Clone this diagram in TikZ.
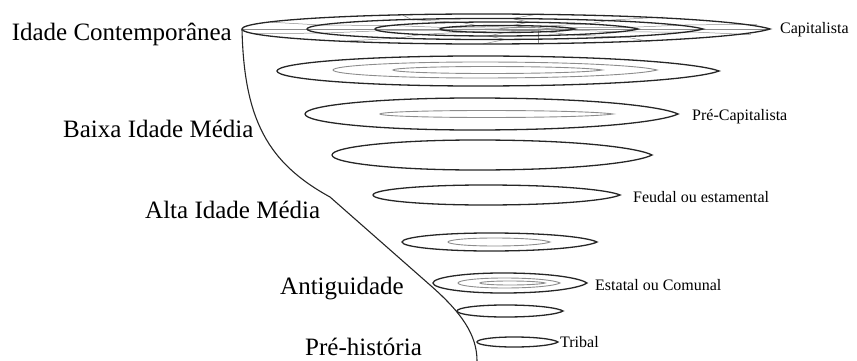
\documentclass[tikz,border=0pt]{standalone}
\usepackage{fontspec}
\setmainfont{Liberation Serif}
\begin{document}
\begin{tikzpicture}[x=1pt,y=-1pt,
  ring/.style={line width=1.3pt,black!85},
  inner/.style={line width=0.9pt,black!45},
  web/.style={line width=0.5pt,black!45},
  funnel/.style={line width=1.1pt,black!85},
  biglbl/.style={inner sep=0pt,font=\fontsize{25}{30}\selectfont},
  smalllbl/.style={inner sep=0pt,font=\fontsize{16}{19}\selectfont}]
\useasboundingbox (0,0) rectangle (857,361);
% lens: #1 style, #2 xl, #3 xr, #4 yc, #5 h
\newcommand\lens[5][ring]{%
  \draw[#1] (#2,#4)
   .. controls (#2,{#4-0.552*#5}) and ({#2+0.2*(#3-#2)},{#4-#5}) .. ({#2+0.45*(#3-#2)},{#4-#5})
   .. controls ({#2+0.78*(#3-#2)},{#4-#5}) and ({#3-0.04*(#3-#2)},{#4-0.45*#5}) .. (#3,#4)
   .. controls ({#3-0.04*(#3-#2)},{#4+0.45*#5}) and ({#2+0.78*(#3-#2)},{#4+#5}) .. ({#2+0.45*(#3-#2)},{#4+#5})
   .. controls ({#2+0.2*(#3-#2)},{#4+#5}) and (#2,{#4+0.552*#5}) .. cycle;}
% top disk (Capitalista)
\draw[web] (242,29) -- (770,29);
\draw[web] (538,29) -- (538,43);
\foreach \a in {15,50,80,110,150,195,230,262,300,335}{
  \draw[web] ({525+20*cos(\a)},{29-1.5*sin(\a)}) -- ({507.5+67.5*cos(\a+6)},{29-3.5*sin(\a+6)})
   -- ({506.5+131.5*cos(\a)},{29-7*sin(\a)}) -- ({505+198*cos(\a+8)},{29-10.5*sin(\a+8)})
   -- ({506+264*cos(\a+3)},{29-15*sin(\a+3)});}
\lens{242}{770}{29}{15}
\lens{307}{703}{29}{10.5}
\lens{375}{638}{29}{7}
\lens{440}{575}{29}{3.5}
\lens[inner]{500}{550}{29}{1.5}
% row 2
\lens{277}{719}{71}{15}
\lens[inner]{333}{657}{70}{8}
\lens[inner]{393}{602}{70}{3.5}
% row 3
\lens{305}{678}{114}{16}
\lens[inner]{380}{613}{114}{3.5}
% row 4
\lens{332}{652}{155}{15}
% row 5
\lens{373}{620}{195}{10}
% row 6
\lens{402}{597}{242}{9}
\lens[inner]{448}{550}{242}{4}
% row 7
\lens{433}{587}{283}{10}
\lens[inner]{458}{560}{283}{5}
\lens[inner]{480}{545}{283}{2}
% row 8
\lens{457}{563}{311}{6}
% row 9
\lens{477}{558}{342}{5}
% funnel
\coordinate (ftop) at (242,29);
\coordinate (fmid) at (330,197);
\coordinate (flow) at (430,285);
\coordinate (fbot) at (477,361);
\draw[funnel] (ftop) .. controls (244,120) and (268,163) .. (fmid) -- (flow)
  .. controls (462,313) and (477,335) .. (fbot);
% labels
\node[biglbl,anchor=base east] (l1) at (232,41) {Idade Contemporânea};
\node[biglbl,anchor=base west] (l2) at (63,137) {Baixa Idade Média};
\node[biglbl,anchor=base west] (l3) at (145,218) {Alta Idade Média};
\node[biglbl,anchor=base west] (l4) at (280,294) {Antiguidade};
\node[biglbl,anchor=base west] (l5) at (305,355) {Pré-história};
\node[smalllbl,anchor=base west] (r1) at (780,34) {Capitalista};
\node[smalllbl,anchor=base west] (r2) at (692,120) {Pré-Capitalista};
\node[smalllbl,anchor=base west] (r3) at (633,202) {Feudal ou estamental};
\node[smalllbl,anchor=base west] (r4) at (595,290) {Estatal ou Comunal};
\node[smalllbl,anchor=base west] (r5) at (560,347) {Tribal};
\end{tikzpicture}
\end{document}
